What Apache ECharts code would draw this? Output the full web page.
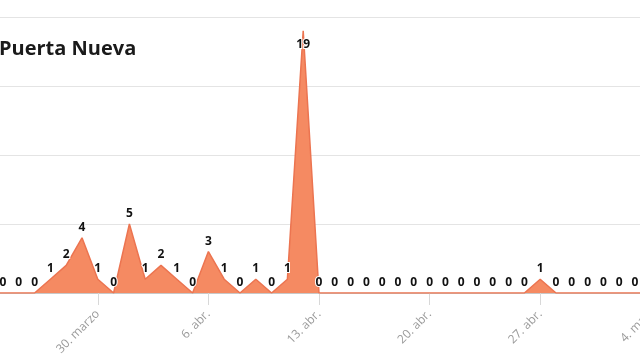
<!DOCTYPE html>
<html>
<head>
<meta charset="utf-8">
<script src="https://cdn.jsdelivr.net/npm/echarts@6/dist/echarts.min.js"></script>
<style>html,body{margin:0;padding:0;background:#fff}#c{width:640px;height:360px}</style>
</head>
<body>
<div id="c"></div>
<script>
const titleText = 'Puerta Nueva';
const categories = [
  '23. marzo','24. marzo','25. marzo','26. marzo','27. marzo','28. marzo','29. marzo','30. marzo','31. marzo',
  '1. abr.','2. abr.','3. abr.','4. abr.','5. abr.','6. abr.','7. abr.','8. abr.','9. abr.','10. abr.',
  '11. abr.','12. abr.','13. abr.','14. abr.','15. abr.','16. abr.','17. abr.','18. abr.','19. abr.','20. abr.',
  '21. abr.','22. abr.','23. abr.','24. abr.','25. abr.','26. abr.','27. abr.','28. abr.','29. abr.','30. abr.',
  '1. may.','2. may.','3. may.','4. may.','5. may.'
];
const values = [
  0,0,0,0,1,2,4,1,0,
  5,1,2,1,0,3,1,0,1,0,
  1,19,0,0,0,0,0,0,0,0,
  0,0,0,0,0,0,1,0,0,0,
  0,0,0,0,0
];
const firstTickIndex = 7;
const tickStep = 7;

const chart = echarts.init(document.getElementById('c'), null, {renderer: 'canvas'});
const showTick = (i) => i >= firstTickIndex && (i - firstTickIndex) % tickStep === 0;
const peakIndex = values.indexOf(Math.max(...values));
chart.setOption({
  animation: false,
  backgroundColor: '#ffffff',
  title: {
    text: titleText,
    left: -6,
    top: 34,
    textStyle: {fontFamily: 'Open Sans', fontSize: 20, fontWeight: 'bold', color: '#1a1a1a'}
  },
  grid: {left: -12.8, right: -26.6, top: 17, bottom: 67, outerBoundsMode: 'none', containLabel: false},
  xAxis: {
    type: 'category',
    data: categories,
    boundaryGap: false,
    axisLine: {lineStyle: {color: '#c8c8c8', width: 1}},
    axisTick: {show: true, interval: (i) => showTick(i), length: 12, lineStyle: {color: '#d8d8d8'}},
    axisLabel: {
      interval: (i) => showTick(i),
      rotate: 45,
      margin: 19,
      color: '#9a9a9a',
      fontFamily: 'Open Sans',
      fontSize: 12
    },
    splitLine: {show: false}
  },
  yAxis: {
    type: 'value',
    min: 0, max: 20, interval: 5,
    axisLabel: {show: false},
    axisLine: {show: false},
    axisTick: {show: false},
    splitLine: {lineStyle: {color: '#e4e4e4', width: 1}}
  },
  series: [{
    type: 'line',
    data: values,
    symbol: 'circle',
    symbolSize: 1,
    showSymbol: true,
    showAllSymbol: true,
    itemStyle: {color: 'rgba(0,0,0,0)', borderWidth: 0},
    lineStyle: {color: '#ec7450', width: 1.5},
    areaStyle: {color: '#f58a62', opacity: 1},
    label: {
      show: true,
      position: 'top',
      distance: 4,
      fontFamily: 'Open Sans',
      fontWeight: 'bold',
      fontSize: 12,
      color: '#111',
      textBorderColor: '#fff',
      textBorderWidth: 2
    },
    labelLayout: (p) => p.dataIndex === peakIndex ? {dy: 24} : {}
  }]
});
</script>
</body>
</html>
